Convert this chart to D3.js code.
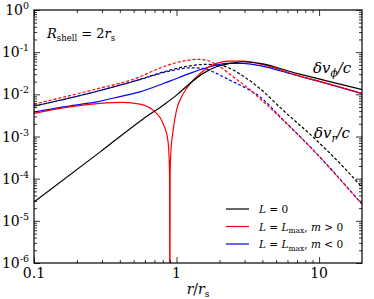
<!DOCTYPE html>
<html>
<head>
<meta charset="utf-8">
<script src="https://cdn.jsdelivr.net/npm/d3@7"></script>
<style>
body { margin: 0; background: #fff; }
svg { display: block; }
.axis path { display: none; }
.axis line { stroke: #000; stroke-width: 0.8; }
</style>
</head>
<body>
<div id="grafico"></div>
<script>
// valores (r/r_s, dv/c)
// L = 0, dv_phi
const r_L0_phi = [0.1, 0.29, 0.58, 0.806, 1.0, 1.24, 1.536, 1.907, 2.363, 2.93, 3.835, 6.97, 11.87, 20];
const v_L0_phi = [2.8e-5, 4.26e-4, 2.58e-3, 5.54e-3, 9.57e-3, 0.01815, 0.0314, 0.045, 0.0542, 0.0592, 0.0542, 0.0314, 0.02003, 0.01293];
// L = Lmax, m > 0, dv_phi (passa por zero perto de r = 0.9)
const r_mpos_phi = [0.1, 0.169, 0.29, 0.421, 0.553, 0.682, 0.802, 0.869, 0.885, 0.893, 0.8975, 0.902, 0.91, 0.9467, 1.0, 1.084, 1.175, 1.381, 1.623, 1.907, 2.363, 2.93, 3.835, 6.97, 11.87, 20];
const v_mpos_phi = [3.52e-3, 4.89e-3, 6.08e-3, 6.42e-3, 5.85e-3, 4.21e-3, 2.07e-3, 8.2e-4, 3.6e-4, 1.3e-4, 1e-8, 1.3e-4, 3.6e-4, 1.41e-3, 4.2e-3, 8.7e-3, 0.0138, 0.026, 0.0412, 0.0542, 0.0615, 0.0615, 0.053, 0.0286, 0.01747, 0.0105];
// L = Lmax, m < 0, dv_phi
const r_mneg_phi = [0.1, 0.1604, 0.275, 0.4006, 0.553, 0.8975, 1.24, 1.711, 2.24, 2.93, 3.835, 6.97, 11.87, 20];
const v_mneg_phi = [3.78e-3, 5.05e-3, 6.63e-3, 8.82e-3, 0.01146, 0.0206, 0.0314, 0.045, 0.0542, 0.0542, 0.0481, 0.028, 0.0172, 0.0104];
// dv_r (tracejado)
const r_L0_r = [0.1, 0.2469, 0.553, 0.8975, 1.24, 1.623, 2.011, 2.493, 3.094, 3.835, 5.585, 9.57, 16.38, 20];
const v_L0_r = [5.25e-3, 0.0107, 0.0226, 0.0376, 0.0475, 0.0513, 0.0494, 0.0376, 0.0239, 0.0138, 4.2e-3, 8.2e-4, 1.32e-4, 6.25e-5];
const r_mpos_r = [0.1, 0.2469, 0.553, 0.7637, 1.112, 1.417, 1.665, 2.011, 2.493, 3.094, 3.835, 5.585, 9.57, 16.38, 20];
const v_mpos_r = [5.85e-3, 0.01225, 0.026, 0.0419, 0.0615, 0.0675, 0.0625, 0.045, 0.026, 0.01507, 8.0e-3, 2.44e-3, 3.95e-4, 5.3e-5, 2.47e-5];
const r_mneg_r = [0.1, 0.2469, 0.553, 0.8975, 1.24, 1.529, 1.907, 2.363, 3.094, 3.835, 5.585, 9.57, 16.38, 20];
const v_mneg_r = [5.25e-3, 0.0107, 0.0223, 0.0356, 0.0426, 0.0412, 0.0314, 0.0217, 0.0138, 8.8e-3, 2.5e-3, 4.0e-4, 5.4e-5, 2.5e-5];

// eixos
const xMajor = [0.1, 1, 10];
const xMinor = [0.2, 0.3, 0.4, 0.5, 0.6, 0.7, 0.8, 0.9, 2, 3, 4, 5, 6, 7, 8, 9];
const yExpoentes = [0, -1, -2, -3, -4, -5, -6];

const W = 374, H = 299;
const margin = {top: 10, right: 12, bottom: 36, left: 34};
const fonte = 'DejaVu Serif';

let svg = d3.select('#grafico').append('svg')
    .attr('width', W)
    .attr('height', H)
    .attr('font-family', fonte)
    .style('font-family', fonte);

let x = d3.scaleLog().domain([0.1, 20]).range([margin.left, W - margin.right]);
let y = d3.scaleLog().domain([1e-6, 1]).range([H - margin.bottom, margin.top]);

const yMajor = yExpoentes.map(e => Math.pow(10, e));
let yMinor = [];
yExpoentes.slice(1).forEach(e => {
    for (let k = 2; k <= 9; k++) yMinor.push(k * Math.pow(10, e));
});

svg.append('clipPath').attr('id', 'area')
    .append('rect')
    .attr('x', margin.left).attr('y', margin.top)
    .attr('width', W - margin.left - margin.right)
    .attr('height', H - margin.top - margin.bottom);

//curvas
const linha = d3.line()
    .x(d => x(d[0]))
    .y(d => y(d[1]))
    .curve(d3.curveMonotoneX);

const curvas = [
    {r: r_mneg_r, v: v_mneg_r, cor: '#0000ff', tracejado: true, offset: 2.5},
    {r: r_mpos_r, v: v_mpos_r, cor: '#ff0000', tracejado: true, offset: 0},
    {r: r_L0_r, v: v_L0_r, cor: '#000000', tracejado: true, offset: 0},
    {r: r_mneg_phi, v: v_mneg_phi, cor: '#0000ff', tracejado: false},
    {r: r_mpos_phi, v: v_mpos_phi, cor: '#ff0000', tracejado: false},
    {r: r_L0_phi, v: v_L0_phi, cor: '#000000', tracejado: false}
];

let g = svg.append('g').attr('clip-path', 'url(#area)');
g.selectAll('path')
    .data(curvas)
    .enter()
    .append('path')
    .attr('d', c => linha(c.r.map((rr, i) => [rr, c.v[i]])))
    .style('fill', 'none')
    .style('stroke', c => c.cor)
    .style('stroke-width', 1.2)
    .style('stroke-dasharray', c => c.tracejado ? '3,2' : null)
    .style('stroke-dashoffset', c => c.tracejado ? c.offset : null);

// ticks para dentro nos quatro lados
function ticks(gerador, valores, tamanho, transform) {
    return svg.append('g')
        .attr('class', 'axis')
        .attr('transform', transform)
        .call(gerador.tickValues(valores).tickSize(-tamanho).tickFormat(''));
}
const y0 = H - margin.bottom, x1 = W - margin.right;
ticks(d3.axisBottom(x), xMajor, 6, 'translate(0,' + y0 + ')');
ticks(d3.axisBottom(x), xMinor, 3, 'translate(0,' + y0 + ')');
ticks(d3.axisTop(x), xMajor, 6, 'translate(0,' + margin.top + ')');
ticks(d3.axisTop(x), xMinor, 3, 'translate(0,' + margin.top + ')');
ticks(d3.axisLeft(y), yMajor, 6, 'translate(' + margin.left + ',0)');
ticks(d3.axisLeft(y), yMinor, 3, 'translate(' + margin.left + ',0)');
ticks(d3.axisRight(y), yMajor, 6, 'translate(' + x1 + ',0)');
ticks(d3.axisRight(y), yMinor, 3, 'translate(' + x1 + ',0)');

svg.append('rect')
    .attr('x', margin.left).attr('y', margin.top)
    .attr('width', W - margin.left - margin.right)
    .attr('height', H - margin.top - margin.bottom)
    .style('fill', 'none')
    .style('stroke', '#000')
    .style('stroke-width', 1.2);

// etiquetas
svg.append('g').selectAll('text')
    .data(xMajor)
    .enter()
    .append('text')
    .attr('x', d => x(d))
    .attr('y', y0 + 15)
    .style('font-size', '14px')
    .style('text-anchor', 'middle')
    .text(d => d);

let ylab = svg.append('g').selectAll('text')
    .data(yExpoentes)
    .enter()
    .append('text')
    .attr('x', margin.left - 5)
    .attr('y', e => y(Math.pow(10, e)) + 5)
    .style('font-size', '14px')
    .style('text-anchor', 'end');
ylab.append('tspan').text('10');
ylab.append('tspan').attr('dy', -6).style('font-size', '9.5px').text(e => e === 0 ? '0' : '-' + (-e));

let xl = svg.append('text')
    .attr('x', (margin.left + x1) / 2)
    .attr('y', H - 5)
    .style('font-size', '14px')
    .style('text-anchor', 'middle');
xl.append('tspan').style('font-style', 'italic').text('r');
xl.append('tspan').text('/');
xl.append('tspan').style('font-style', 'italic').text('r');
xl.append('tspan').attr('dy', 3).style('font-size', '9px').text('s');

let tit = svg.append('text')
    .attr('x', 47)
    .attr('y', 38)
    .style('font-size', '13px');
tit.append('tspan').style('font-style', 'italic').text('R');
tit.append('tspan').attr('dy', 3).style('font-size', '8.5px').text('shell');
tit.append('tspan').attr('dy', -3).text(' = 2');
tit.append('tspan').style('font-style', 'italic').text('r');
tit.append('tspan').attr('dy', 3).style('font-size', '8.5px').text('s');

let phi = svg.append('text')
    .attr('x', 313)
    .attr('y', 73)
    .style('font-size', '15px')
    .style('font-style', 'italic');
phi.append('tspan').text('δv');
phi.append('tspan').attr('dy', 4).style('font-size', '10.5px').text('ϕ');
phi.append('tspan').attr('dy', -4).text('/c');

let rad = svg.append('text')
    .attr('x', 314)
    .attr('y', 138)
    .style('font-size', '15px')
    .style('font-style', 'italic');
rad.append('tspan').text('δv');
rad.append('tspan').attr('dy', 4).style('font-size', '10.5px').text('r');
rad.append('tspan').attr('dy', -4).text('/c');

// legenda
const legendaCores = ['#000000', '#ff0000', '#0000ff'];
const legendaSinal = [null, '>', '<'];
let leg = svg.append('g').selectAll('g')
    .data(legendaCores)
    .enter()
    .append('g')
    .attr('transform', (c, i) => 'translate(226,' + (209 + i * 17.5) + ')');
leg.append('line')
    .attr('x2', 23)
    .style('stroke', c => c)
    .style('stroke-width', 1.2);
let lt = leg.append('text')
    .attr('x', 33)
    .attr('y', 4)
    .style('font-size', '10.5px');
lt.each(function (c, i) {
    let t = d3.select(this);
    t.append('tspan').style('font-style', 'italic').text('L');
    if (i === 0) {
        t.append('tspan').text(' = 0');
    } else {
        t.append('tspan').text(' = ');
        t.append('tspan').style('font-style', 'italic').text('L');
        t.append('tspan').attr('dy', 2.5).style('font-size', '7.5px').text('max');
        t.append('tspan').attr('dy', -2.5).text(', ');
        t.append('tspan').style('font-style', 'italic').text('m');
        t.append('tspan').text(' ' + legendaSinal[i] + ' 0');
    }
});
</script>
</body>
</html>
